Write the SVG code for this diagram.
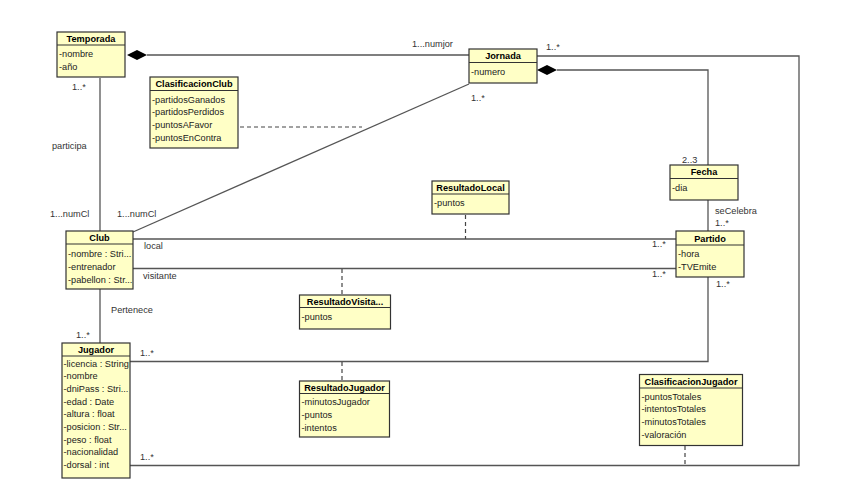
<svg xmlns="http://www.w3.org/2000/svg" width="848" height="497" viewBox="0 0 848 497">
<style>
text{font-family:"Liberation Sans",Arial,sans-serif;font-size:9.2px;fill:#222}
.t{font-weight:bold;text-anchor:middle;fill:#000}
.box{fill:#ffffc6;stroke:#333;stroke-width:1.2}
.sep{stroke:#333;stroke-width:1.2}
.ln{fill:none;stroke:#555;stroke-width:1.3}
.dash{fill:none;stroke:#444;stroke-width:1.2;stroke-dasharray:4,3}
.dia{fill:#000}
.lbl{fill:#333}
</style>
<rect width="848" height="497" fill="#fff"/>
<g id="connectors">
<polyline class="ln" points="147,55 469,55"/>
<polygon class="dia" points="127,55 137,50 147,55 137,60"/>
<polyline class="ln" points="537,56 799,56 799,465.5 130,465.5"/>
<polyline class="ln" points="557,70 708,70 708,165"/>
<polygon class="dia" points="537,70 547,65 557,70 547,75"/>
<line class="ln" x1="469" y1="84" x2="133" y2="232"/>
<line class="ln" x1="100" y1="78" x2="100" y2="231"/>
<line class="ln" x1="100" y1="289" x2="100" y2="343"/>
<line class="ln" x1="133" y1="239" x2="676" y2="239"/>
<line class="ln" x1="133" y1="268.5" x2="676" y2="268.5"/>
<line class="ln" x1="708" y1="200" x2="708" y2="231"/>
<polyline class="ln" points="708,277 708,361.5 130,361.5"/>
<line class="dash" x1="240" y1="127" x2="362" y2="127"/>
<line class="dash" x1="465.5" y1="215" x2="465.5" y2="239"/>
<line class="dash" x1="342" y1="269" x2="342" y2="295"/>
<line class="dash" x1="342" y1="362" x2="342" y2="381"/>
<line class="dash" x1="685" y1="446" x2="685" y2="465"/>
<text class="lbl" x="412" y="47">1...numjor</text>
<text class="lbl" x="546" y="50">1..*</text>
<text class="lbl" x="471" y="101">1..*</text>
<text class="lbl" x="72" y="90">1..*</text>
<text class="lbl" x="52" y="149">participa</text>
<text class="lbl" x="50" y="217">1...numCl</text>
<text class="lbl" x="117" y="217">1...numCl</text>
<text class="lbl" x="144" y="249">local</text>
<text class="lbl" x="143" y="279">visitante</text>
<text class="lbl" x="111" y="313">Pertenece</text>
<text class="lbl" x="76" y="338">1..*</text>
<text class="lbl" x="140" y="356">1..*</text>
<text class="lbl" x="140" y="460">1..*</text>
<text class="lbl" x="682" y="163">2..3</text>
<text class="lbl" x="715" y="214">seCelebra</text>
<text class="lbl" x="715" y="226">1..*</text>
<text class="lbl" x="652" y="247">1..*</text>
<text class="lbl" x="652" y="277">1..*</text>
<text class="lbl" x="716" y="287">1..*</text>
</g>
<g id="Temporada">
<rect class="box" x="57" y="32" width="68" height="45"/>
<line class="sep" x1="57" y1="45" x2="125" y2="45"/>
<text class="t" x="91" y="42">Temporada</text>
<text x="59" y="57">-nombre</text>
<text x="59" y="70">-año</text>
</g>
<g id="ClasificacionClub">
<rect class="box" x="150" y="77" width="88" height="71"/>
<line class="sep" x1="150" y1="90.5" x2="238" y2="90.5"/>
<text class="t" x="194" y="87">ClasificacionClub</text>
<text x="152" y="102.5">-partidosGanados</text>
<text x="152" y="115">-partidosPerdidos</text>
<text x="152" y="128">-puntosAFavor</text>
<text x="152" y="141">-puntosEnContra</text>
</g>
<g id="Jornada">
<rect class="box" x="469" y="49" width="68" height="34"/>
<line class="sep" x1="469" y1="62.5" x2="537" y2="62.5"/>
<text class="t" x="503" y="59">Jornada</text>
<text x="471" y="75">-numero</text>
</g>
<g id="Fecha">
<rect class="box" x="670" y="165" width="68" height="35"/>
<line class="sep" x1="670" y1="178.5" x2="738" y2="178.5"/>
<text class="t" x="704" y="175">Fecha</text>
<text x="672" y="190.5">-dia</text>
</g>
<g id="Partido">
<rect class="box" x="676" y="231" width="68" height="46"/>
<line class="sep" x1="676" y1="245" x2="744" y2="245"/>
<text class="t" x="710" y="241.5">Partido</text>
<text x="678" y="257">-hora</text>
<text x="678" y="269.5">-TVEmite</text>
</g>
<g id="Club">
<rect class="box" x="66" y="231" width="67" height="58"/>
<line class="sep" x1="66" y1="244" x2="133" y2="244"/>
<text class="t" x="99.5" y="241">Club</text>
<text x="68" y="257">-nombre : Stri...</text>
<text x="68" y="270">-entrenador</text>
<text x="68" y="282.5">-pabellon : Str...</text>
</g>
<g id="ResultadoLocal">
<rect class="box" x="432" y="181" width="77" height="33"/>
<line class="sep" x1="432" y1="194" x2="509" y2="194"/>
<text class="t" x="470.5" y="190.5">ResultadoLocal</text>
<text x="434" y="205.5">-puntos</text>
</g>
<g id="ResultadoVisitante">
<rect class="box" x="299.5" y="295" width="91" height="34"/>
<line class="sep" x1="299.5" y1="307.5" x2="390.5" y2="307.5"/>
<text class="t" x="345" y="304.5">ResultadoVisita...</text>
<text x="301.5" y="319.5">-puntos</text>
</g>
<g id="ResultadoJugador">
<rect class="box" x="299.5" y="381" width="90" height="56"/>
<line class="sep" x1="299.5" y1="393.5" x2="389.5" y2="393.5"/>
<text class="t" x="344.5" y="390.5">ResultadoJugador</text>
<text x="301.5" y="405">-minutosJugador</text>
<text x="301.5" y="418">-puntos</text>
<text x="301.5" y="430.5">-intentos</text>
</g>
<g id="Jugador">
<rect class="box" x="62" y="343" width="68" height="135"/>
<line class="sep" x1="62" y1="356" x2="130" y2="356"/>
<text class="t" x="96" y="353">Jugador</text>
<text x="63.5" y="366.5">-licencia : String</text>
<text x="63.5" y="379.2">-nombre</text>
<text x="63.5" y="391.9">-dniPass : Stri...</text>
<text x="63.5" y="404.6">-edad : Date</text>
<text x="63.5" y="417.3">-altura : float</text>
<text x="63.5" y="430">-posicion : Str...</text>
<text x="63.5" y="442.7">-peso : float</text>
<text x="63.5" y="455.4">-nacionalidad</text>
<text x="63.5" y="468">-dorsal : int</text>
</g>
<g id="ClasificacionJugador">
<rect class="box" x="639.5" y="374.5" width="103" height="71"/>
<line class="sep" x1="639.5" y1="388" x2="742.5" y2="388"/>
<text class="t" x="691" y="384.5">ClasificacionJugador</text>
<text x="641.5" y="399.5">-puntosTotales</text>
<text x="641.5" y="412">-intentosTotales</text>
<text x="641.5" y="425">-minutosTotales</text>
<text x="641.5" y="437.5">-valoración</text>
</g>
</svg>
